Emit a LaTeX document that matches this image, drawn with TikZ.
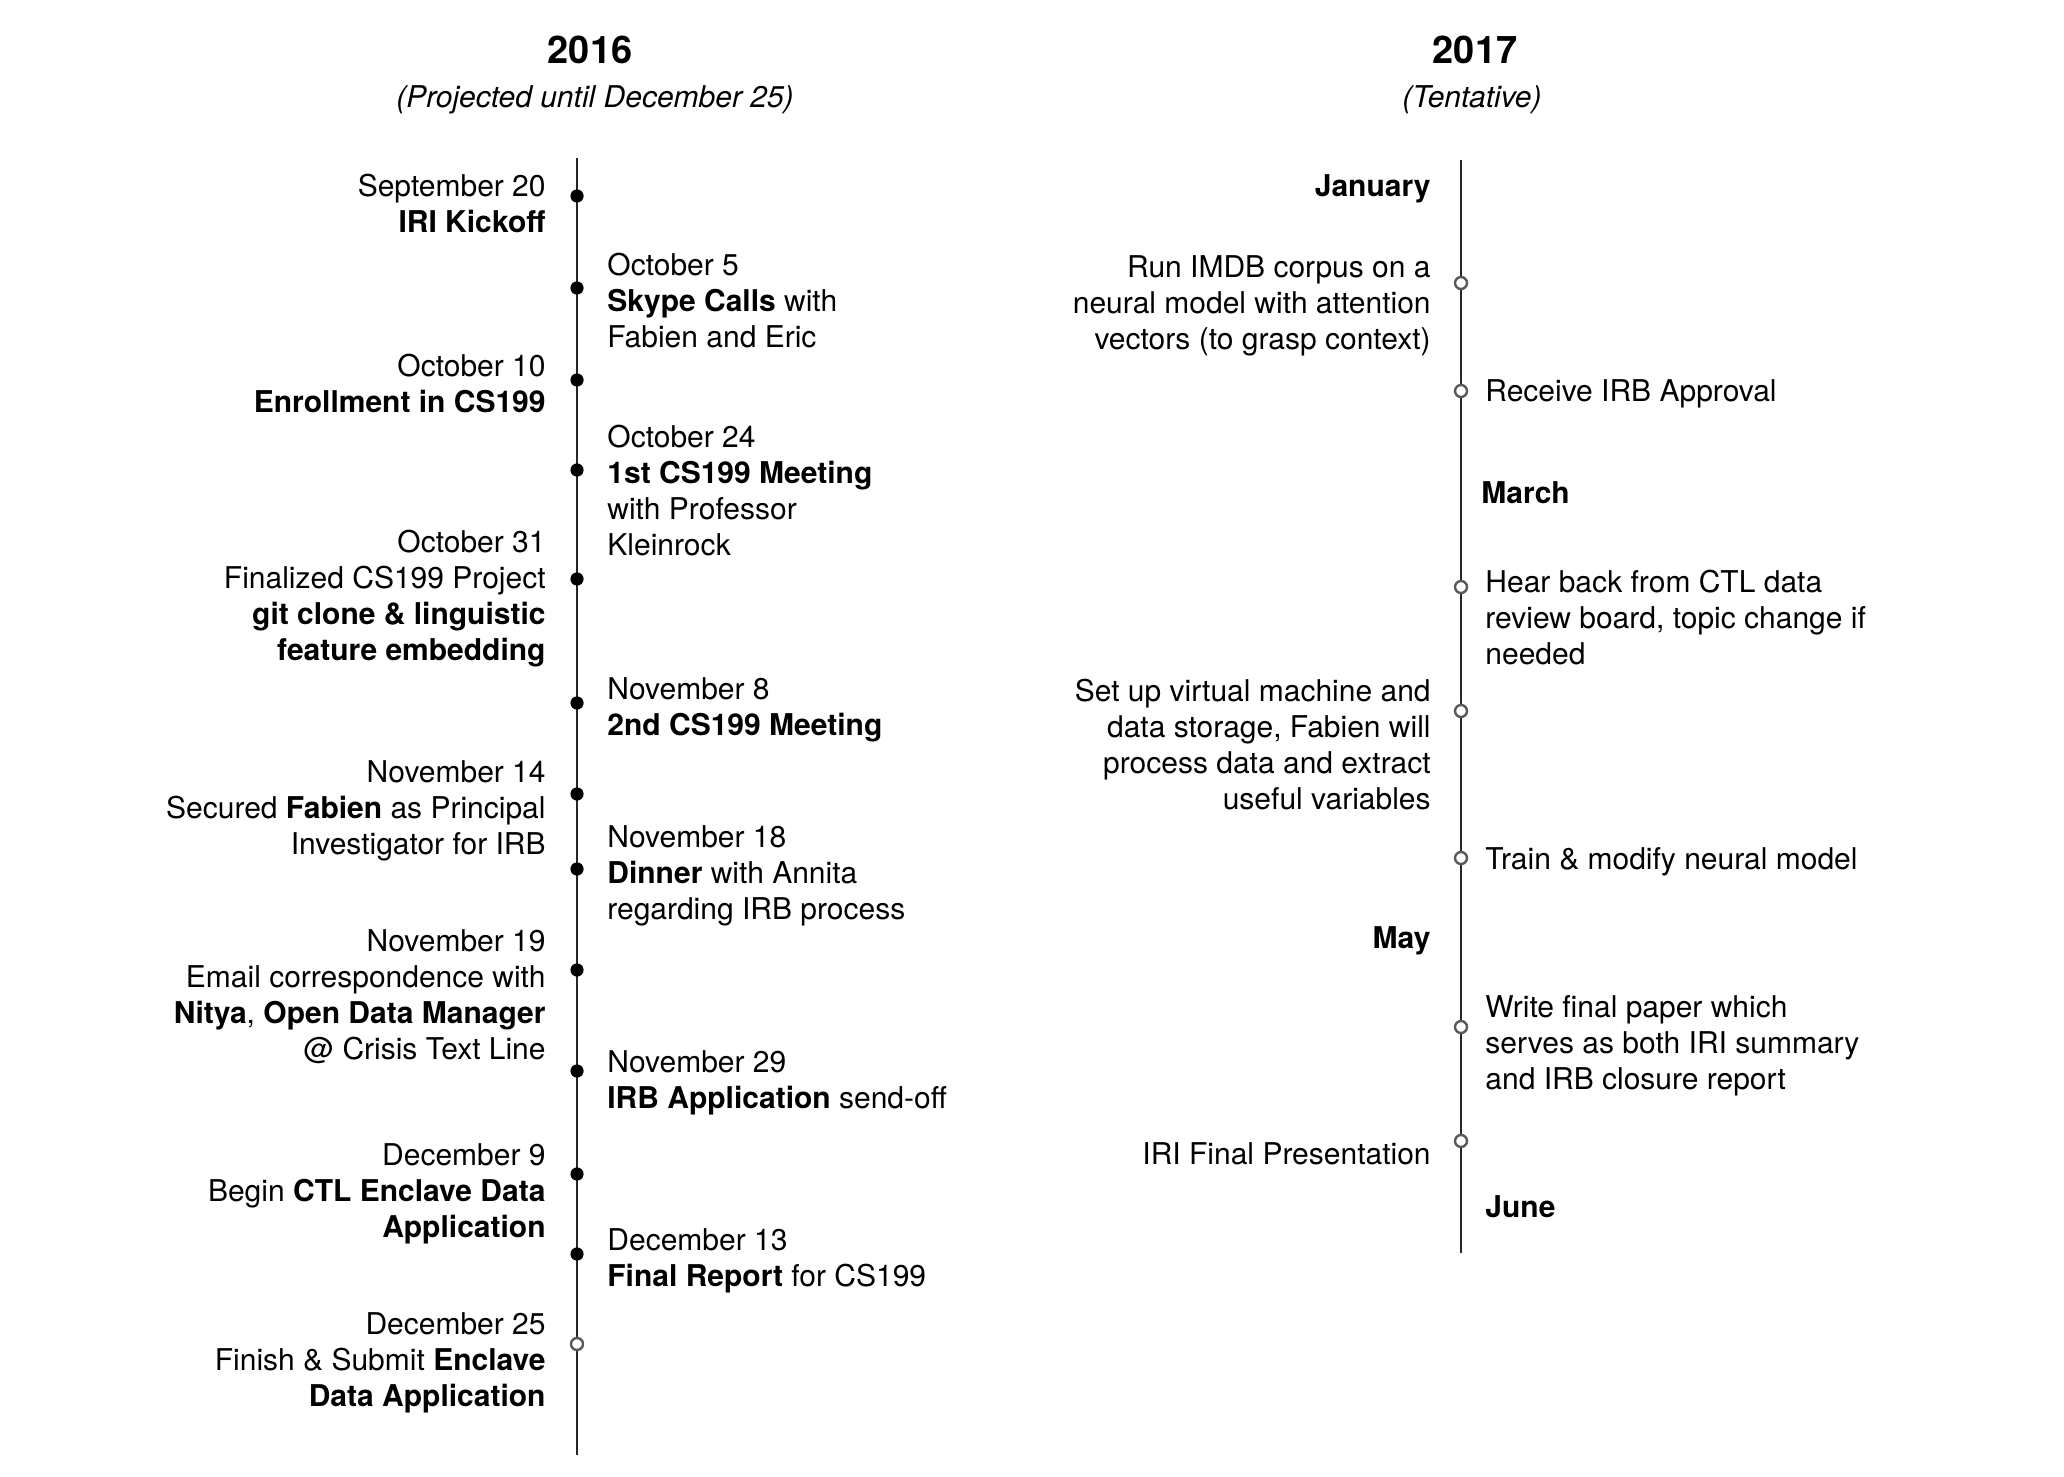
\documentclass[tikz,border=0pt]{standalone}
\usepackage{fontspec}
\setmainfont{TeX Gyre Heros}
\begin{document}
\begin{tikzpicture}[x=0.5pt, y=-0.5pt,
  body/.style={font=\fontsize{15}{18}\selectfont, inner sep=0pt, text=black},
  lefttxt/.style={body, align=right, anchor=base east},
  righttxt/.style={body, align=left, anchor=base west},
  yearhead/.style={font=\bfseries\fontsize{19}{22}\selectfont, inner sep=0pt, anchor=base},
  yearsub/.style={font=\itshape\fontsize{15}{18}\selectfont, inner sep=0pt, anchor=base},
  done/.style={circle, fill=black, inner sep=0pt, minimum size=6.6pt},
  todo/.style={circle, draw=black!65, line width=1.2pt, fill=white, inner sep=0pt, minimum size=6pt},
  axis/.style={line width=1pt, draw=black!85}]
\useasboundingbox (0,0) rectangle (2064,1476);

% ---------- headings ----------
\node[yearhead] (h16) at (590,64) {2016};
\node[yearsub] (s16) at (595,108) {(Projected until December 25)};
\node[yearhead] (h17) at (1475,64) {2017};
\node[yearsub] (s17) at (1472,108) {(Tentative)};

% ---------- axes ----------
\coordinate (ltop) at (577,158);
\coordinate (lbot) at (577,1455);
\coordinate (rtop) at (1461,160);
\coordinate (rbot) at (1461,1253);
\draw[axis] (ltop) -- (lbot);
\draw[axis] (rtop) -- (rbot);

% ---------- 2016 markers ----------
\node[done] (d1) at (577,196) {};
\node[done] (d2) at (577,288) {};
\node[done] (d3) at (577,380) {};
\node[done] (d4) at (577,470) {};
\node[done] (d5) at (577,579) {};
\node[done] (d6) at (577,703) {};
\node[done] (d7) at (577,794) {};
\node[done] (d8) at (577,869) {};
\node[done] (d9) at (577,970) {};
\node[done] (d10) at (577,1071) {};
\node[done] (d11) at (577,1174) {};
\node[done] (d12) at (577,1254) {};
\node[todo] (d13) at (577,1344) {};

% ---------- 2016 events (positions give the baseline of the last line) ----------
\node[lefttxt] (t1) at (546,233) {September 20\\\textbf{IRI Kickoff}};
\node[righttxt] (t2) at (607,348) {October 5\\\textbf{Skype Calls} with\\Fabien and Eric};
\node[lefttxt] (t3) at (546,412) {October 10\\\textbf{Enrollment in CS199}};
\node[righttxt] (t4) at (607,555) {October 24\\\textbf{1st CS199 Meeting}\\with Professor\\Kleinrock};
\node[lefttxt] (t5) at (546,660) {October 31\\Finalized CS199 Project\\\textbf{git clone \& linguistic}\\\textbf{feature embedding}};
\node[righttxt] (t6) at (607,735) {November 8\\\textbf{2nd CS199 Meeting}};
\node[lefttxt] (t7) at (546,854) {November 14\\Secured \textbf{Fabien} as Principal\\Investigator for IRB};
\node[righttxt] (t8) at (607,919) {November 18\\\textbf{Dinner} with Annita\\regarding IRB process};
\node[lefttxt] (t9) at (546,1059) {November 19\\Email correspondence with\\\textbf{Nitya}, \textbf{Open Data Manager}\\@ Crisis Text Line};
\node[righttxt] (t10) at (607,1108) {November 29\\\textbf{IRB Application} send-off};
\node[lefttxt] (t11) at (546,1237) {December 9\\Begin \textbf{CTL Enclave Data}\\\textbf{Application}};
\node[righttxt] (t12) at (607,1286) {December 13\\\textbf{Final Report} for CS199};
\node[lefttxt] (t13) at (546,1406) {December 25\\Finish \& Submit \textbf{Enclave}\\\textbf{Data Application}};

% ---------- 2017 markers ----------
\node[todo] (e1) at (1461,283) {};
\node[todo] (e2) at (1461,391) {};
\node[todo] (e3) at (1461,587) {};
\node[todo] (e4) at (1461,711) {};
\node[todo] (e5) at (1461,858) {};
\node[todo] (e6) at (1461,1027) {};
\node[todo] (e7) at (1461,1141) {};

% ---------- 2017 months and plans ----------
\node[lefttxt, font=\bfseries\fontsize{15}{18}\selectfont] (mjan) at (1431,197) {January};
\node[lefttxt] (u1) at (1431,350) {Run IMDB corpus on a\\neural model with attention\\vectors (to grasp context)};
\node[righttxt] (u2) at (1485,401) {Receive IRB Approval};
\node[righttxt, font=\bfseries\fontsize{15}{18}\selectfont] (mmar) at (1481,503) {March};
\node[righttxt] (u3) at (1485,664) {Hear back from CTL data\\review board, topic change if\\needed};
\node[lefttxt] (u4) at (1431,809) {Set up virtual machine and\\data storage, Fabien will\\process data and extract\\useful variables};
\node[righttxt] (u5) at (1485,869) {Train \& modify neural model};
\node[lefttxt, font=\bfseries\fontsize{15}{18}\selectfont] (mmay) at (1431,948) {May};
\node[righttxt] (u6) at (1485,1089) {Write final paper which\\serves as both IRI summary\\and IRB closure report};
\node[lefttxt] (u7) at (1431,1164) {IRI Final Presentation};
\node[righttxt, font=\bfseries\fontsize{15}{18}\selectfont] (mjun) at (1485,1217) {June};
\end{tikzpicture}
\end{document}
